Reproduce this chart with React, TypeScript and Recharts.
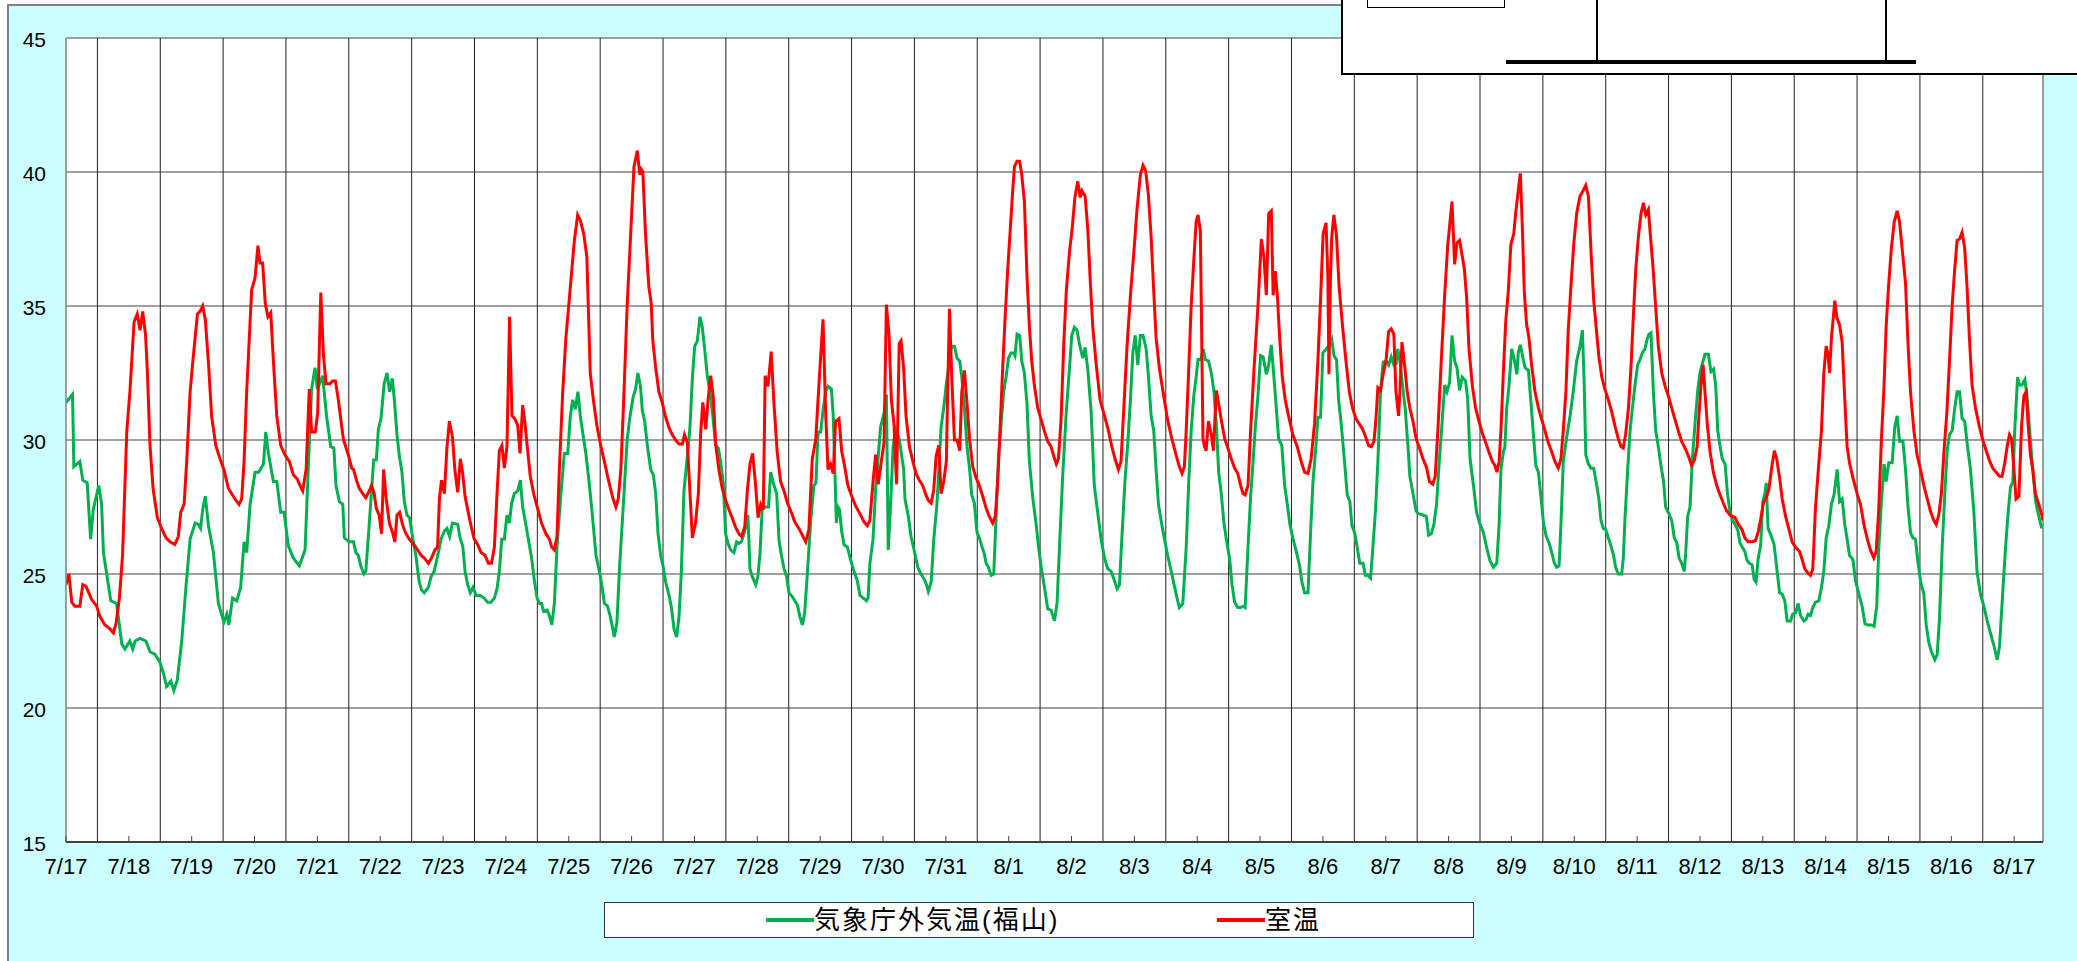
import { LineChart, Line, XAxis, YAxis, CartesianGrid, ReferenceLine } from 'recharts'

// hours counted from 7/17 0:00, temperature in °C
const dayLabels = [
  '7/17', '7/18', '7/19', '7/20', '7/21', '7/22', '7/23', '7/24', '7/25', '7/26', '7/27', '7/28', '7/29', '7/30', '7/31',
  '8/1', '8/2', '8/3', '8/4', '8/5', '8/6', '8/7', '8/8', '8/9', '8/10', '8/11', '8/12', '8/13', '8/14', '8/15', '8/16', '8/17',
]
const yTicks = [15, 20, 25, 30, 35, 40, 45]
const seriesNames = ['気象庁外気温(福山)', '室温']

const outdoorTemp: [number, number][] = [
  [0, 31.4], [2.5, 31.7], [3, 29.0], [5.3, 29.2], [6.4, 28.5], [8.1, 28.4], [9.4, 26.3], [10.4, 27.4], [12.5, 28.3], [13.6, 27.6],
  [14.3, 25.8], [17.1, 24.0], [19.3, 23.9], [21.3, 22.4], [22.5, 22.2], [24.4, 22.5], [25.5, 22.2], [26.4, 22.5], [28.3, 22.6], [30.5, 22.5],
  [32.1, 22.1], [34, 22.0], [35.9, 21.7], [37.2, 21.3], [38.4, 20.8], [40.1, 21.0], [41.2, 20.65], [42.5, 21.05], [44.2, 22.5], [45.8, 24.5],
  [47.4, 26.3], [49.3, 26.9], [50.5, 26.85], [51.4, 26.7], [52.2, 27.4], [53.2, 27.9], [54.4, 26.8], [56.3, 25.8], [58.2, 23.9], [60.3, 23.2],
  [61.4, 23.5], [62.2, 23.1], [63.6, 24.1], [65.2, 24.0], [66.7, 24.5], [68, 26.2], [69, 25.8], [70.3, 27.6], [72.2, 28.8], [73.6, 28.8],
  [75.4, 29.1], [76.3, 30.3], [77.3, 29.5], [79.2, 28.45], [80.5, 28.45], [82, 27.3], [83.3, 27.3], [84.9, 26.05], [86.8, 25.6], [89.1, 25.3],
  [91.3, 25.9], [92.5, 28.9], [93.8, 31.9], [95.1, 32.7], [96, 31.9], [98, 32.4], [99.5, 30.9], [101.1, 29.75], [102.3, 29.7], [103.1, 28.3],
  [104.4, 27.7], [105.7, 27.6], [106.3, 26.35], [108.2, 26.2], [109.8, 26.2], [110.7, 25.8], [111.6, 25.7], [112.6, 25.3], [113.7, 25.0], [114.5, 25.1],
  [115.8, 26.85], [117.5, 29.25], [118.5, 29.25], [119.3, 30.4], [120.3, 30.8], [121.5, 32.1], [122.6, 32.5], [123.6, 31.8], [124.6, 32.3], [125.4, 31.5],
  [126.4, 30.2], [127.3, 29.4], [128.3, 28.8], [129.2, 27.7], [130.2, 27.2], [131.2, 27.1], [132.4, 26.35], [133.6, 25.7], [134.9, 24.7], [135.8, 24.4],
  [136.8, 24.3], [138.4, 24.5], [139.4, 24.9], [140.6, 25.1], [142.2, 25.8], [143.2, 26.3], [144.5, 26.6], [145.5, 26.7], [146.5, 26.4], [147.6, 26.9],
  [149.6, 26.85], [150.6, 26.3], [151.5, 26.05], [152.4, 25.1], [153.4, 24.6], [154.4, 24.3], [155.4, 24.5], [156.6, 24.2], [158.2, 24.2], [159.7, 24.1],
  [161, 23.95], [162.3, 23.95], [163.6, 24.1], [164.6, 24.45], [165.5, 25.1], [166.4, 26.3], [167.4, 26.3], [168.4, 27.2], [169.3, 26.9], [170.2, 27.65],
  [171.2, 28.0], [172.5, 28.1], [173.5, 28.5], [174.4, 27.5], [175.7, 26.8], [177, 26.05], [177.8, 25.6], [178.8, 24.8], [179.9, 24.1], [180.9, 23.9],
  [181.6, 23.9], [182.4, 23.6], [183.7, 23.65], [184.6, 23.45], [185.5, 23.1], [186.5, 23.9], [187.5, 26.0], [189, 28.0], [190.3, 29.5], [191.6, 29.5],
  [192.6, 30.9], [193.5, 31.5], [194.5, 31.15], [195.5, 31.8], [196.4, 30.9], [197.3, 30.3], [198.6, 29.45], [199.8, 28.4], [201.1, 27.1], [202.4, 25.7],
  [203.7, 25.1], [204.6, 24.6], [205.6, 23.9], [206.8, 23.8], [207.9, 23.4], [209.4, 22.65], [210.4, 23.2], [211.4, 25.25], [213.1, 28.0], [214.3, 30.0],
  [215.4, 30.9], [216.6, 31.6], [217.5, 31.9], [218.4, 32.5], [219.4, 32.0], [220.1, 31.1], [221, 30.7], [222, 29.8], [223.3, 28.9], [224.3, 28.7],
  [225.2, 28.0], [226.1, 26.5], [227.1, 25.7], [228.1, 25.25], [229, 24.7], [230.3, 24.2], [231.2, 23.75], [232.2, 22.95], [233.2, 22.65], [234.1, 23.4],
  [235, 25.1], [236, 28.1], [237.3, 29.4], [238.3, 30.5], [239.2, 32.3], [240.1, 33.5], [241.1, 33.7], [242.1, 34.6], [243, 34.2], [243.9, 33.4],
  [244.9, 32.4], [245.9, 31.8], [246.9, 31.0], [248.1, 29.8], [249.1, 29.7], [250, 29.2], [251, 28.4], [251.9, 26.5], [252.8, 26.15], [253.8, 25.9],
  [255.1, 25.8], [256.1, 26.2], [257.1, 26.15], [257.9, 26.2], [258.9, 26.5], [259.9, 26.9], [260.4, 27.2], [261.2, 25.2], [262.1, 24.9], [263.4, 24.6],
  [264.2, 24.9], [265, 25.7], [265.9, 27.5], [267.2, 27.5], [268.3, 27.5], [269.1, 28.8], [270.4, 28.3], [271.4, 28.0], [272.3, 26.25], [273.2, 25.7],
  [274.2, 25.2], [275.2, 24.9], [276.1, 24.3], [277.4, 24.15], [278.3, 24.0], [279.3, 23.85], [280.3, 23.4], [281.2, 23.1], [282.1, 23.55], [283.1, 25.0],
  [284.4, 27.0], [285.6, 28.3], [286.4, 28.4], [287.2, 30.3], [288.2, 30.3], [289.1, 31.1], [290.1, 31.8], [291, 32.0], [292.3, 31.9], [293, 30.9],
  [293.5, 29.3], [294.2, 26.9], [294.8, 27.5], [295.4, 27.4], [296.2, 26.6], [297.1, 26.1], [298.4, 26.0], [299.6, 25.55], [300.9, 25.1], [302.2, 24.75],
  [303.2, 24.2], [304.5, 24.1], [305.7, 24.0], [306.3, 24.1], [307, 25.4], [308.2, 26.3], [309.2, 28.2], [310.1, 29.3], [311.1, 30.5], [312.4, 31.0],
  [313.3, 31.7], [314, 25.9], [314.9, 27.6], [315.9, 29.8], [316.8, 30.4], [318.1, 30.1], [319.9, 28.9], [320.4, 27.8], [321.7, 27.15], [322.7, 26.4],
  [324, 25.85], [325.3, 25.25], [326.5, 25.0], [327.8, 24.8], [328.6, 24.6], [329.3, 24.35], [330.4, 24.7], [331.4, 26.3], [332.6, 27.6], [333.5, 29.2],
  [334.2, 30.5], [335.2, 31.2], [336.2, 32.1], [337.4, 32.95], [338.2, 33.5], [339.3, 33.5], [340.3, 33.05], [341.3, 32.95], [342.1, 32.35], [343.1, 31.2],
  [344.1, 29.75], [345.1, 28.9], [345.9, 27.95], [346.9, 27.65], [347.9, 26.55], [348.8, 26.35], [349.7, 26.05], [350.7, 25.75], [351.4, 25.4], [352.3, 25.25],
  [353.3, 24.95], [354.3, 25.0], [355.2, 27.15], [356.1, 29.3], [357.1, 30.6], [358.1, 31.8], [359, 32.35], [359.9, 33.05], [360.9, 33.25], [361.9, 33.25],
  [362.4, 33.15], [363.2, 33.95], [364.2, 33.9], [365, 32.95], [366, 32.5], [367, 31.35], [367.9, 29.2], [369.2, 27.85], [370.5, 26.85], [371.3, 26.1],
  [372.4, 25.25], [373.6, 24.55], [374.9, 23.7], [376.2, 23.65], [377.5, 23.25], [378.5, 23.95], [379.4, 26.0], [380.6, 28.6], [381.9, 30.9], [383.2, 32.65],
  [384.1, 33.9], [385.1, 34.2], [386.1, 34.1], [387, 33.6], [388.3, 33.05], [389.2, 33.45], [390.2, 32.65], [391.5, 31.05], [392.7, 28.3], [394, 27.3],
  [395.3, 26.3], [396.6, 25.6], [397.8, 25.2], [399.1, 25.1], [400.4, 24.75], [401.4, 24.45], [402.3, 24.6], [403.2, 26.3], [404.4, 28.45], [405.5, 29.9],
  [406.5, 31.5], [407.4, 33.25], [408.3, 33.9], [409.3, 32.8], [410.3, 33.9], [411.3, 33.9], [412.5, 33.4], [413.4, 32.35], [414.4, 30.9], [415.4, 30.35],
  [416.3, 28.9], [417.2, 27.6], [418.2, 27.0], [419.5, 26.3], [420.7, 25.7], [422.3, 25.0], [423.3, 24.55], [424.3, 24.1], [425.2, 23.75], [426.5, 23.9],
  [427.8, 26.0], [428.7, 28.3], [429.7, 30.35], [430.7, 31.65], [431.6, 32.35], [432.3, 33.0], [433.3, 33.0], [434.3, 33.4], [435.1, 33.0], [436.3, 32.95],
  [437.4, 32.5], [438.4, 31.8], [439.3, 30.6], [440.2, 28.8], [441.2, 28.0], [442.2, 26.9], [443.2, 26.25], [444.4, 25.55], [445.3, 24.6], [446.3, 23.95],
  [447.5, 23.75], [448.6, 23.75], [449.5, 23.8], [450.3, 23.75], [451.4, 26.0], [452.4, 27.9], [453.3, 29.15], [454.2, 30.5], [455.2, 31.65], [456.2, 33.15],
  [457.2, 33.1], [458.4, 32.45], [459.3, 32.8], [460.3, 33.55], [461.3, 32.35], [462.2, 31.2], [463.1, 30.05], [464.3, 29.8], [465.4, 28.3], [466.4, 27.6],
  [467.4, 26.85], [468.5, 26.35], [469.8, 25.85], [471.1, 25.3], [472, 24.7], [473, 24.3], [474.3, 24.3], [475.3, 26.55], [476.2, 28.45], [477.2, 29.6],
  [478.1, 30.85], [479.1, 30.85], [480, 33.25], [481.3, 33.4], [482.5, 33.55], [483.4, 33.75], [484.2, 33.15], [485.2, 33.0], [486, 31.5], [487, 30.6],
  [488.3, 29.15], [489.3, 27.95], [490.3, 27.7], [491.1, 26.8], [492.1, 26.55], [493.1, 26.0], [494.1, 25.4], [495.3, 25.4], [496.2, 24.95], [497.2, 24.95],
  [498.2, 24.85], [499.1, 26.0], [500.1, 27.4], [501, 29.2], [502, 31.8], [503, 32.9], [504.1, 32.95], [505.1, 32.8], [506.1, 33.1], [507.1, 32.8],
  [508, 32.85], [508.6, 33.4], [509.4, 32.95], [510.4, 32.05], [511.4, 31.2], [512.5, 29.75], [513.2, 28.65], [514.4, 28.0], [515.6, 27.35], [516.5, 27.25],
  [518.2, 27.2], [519.5, 27.15], [520.4, 26.45], [521.4, 26.5], [522.4, 26.85], [523.4, 27.6], [524.4, 29.15], [525.4, 30.5], [526.5, 32.05], [527.4, 31.8],
  [528.4, 32.15], [529.3, 33.9], [530.3, 32.95], [531.2, 32.7], [532.2, 31.85], [533.2, 32.35], [534.5, 32.2], [535.3, 31.5], [536.2, 29.3], [537.5, 28.3],
  [538.7, 27.3], [540, 26.85], [541.3, 26.55], [542.5, 26.0], [543.8, 25.5], [545.1, 25.25], [546.4, 25.4], [547.3, 26.85], [548, 28.9], [548.9, 29.55],
  [549.5, 29.75], [550.2, 31.2], [551.1, 32.05], [552.1, 33.4], [553.1, 33.0], [554.1, 32.45], [554.6, 33.25], [555.4, 33.55], [556.2, 33.15], [557.2, 32.7],
  [558.5, 32.6], [559.5, 31.35], [560.4, 30.2], [561.3, 29.05], [562.3, 28.8], [563.3, 27.85], [564.3, 26.85], [565.3, 26.4], [566.4, 26.15], [567.4, 25.8],
  [568.4, 25.4], [569.3, 25.25], [570.2, 25.3], [570.9, 26.85], [571.8, 29.2], [573.1, 30.1], [574.4, 30.9], [575.6, 31.8], [576.9, 32.95], [578.2, 33.5],
  [579.1, 34.1], [579.8, 32.05], [580.4, 29.45], [581.4, 29.1], [582.4, 28.95], [583.4, 28.95], [584.6, 28.3], [585.4, 27.8], [586.2, 27.0], [587.1, 26.7],
  [588, 26.65], [589, 26.35], [590, 26.05], [591, 25.7], [591.8, 25.25], [592.8, 25.0], [594.1, 25.0], [594.7, 25.55], [595.4, 27.15], [596.4, 28.9],
  [597.3, 30.35], [598.2, 31.2], [599.2, 32.05], [600.2, 32.8], [601.1, 33.0], [602, 33.25], [603, 33.4], [603.8, 33.75], [604.5, 33.95], [605.3, 34.0],
  [606.2, 31.8], [607.1, 30.35], [608.1, 29.75], [609.1, 29.05], [610.1, 28.45], [610.9, 27.5], [611.9, 27.3], [613.2, 27.0], [614.2, 26.35], [615.2, 26.15],
  [616, 25.6], [617, 25.4], [618, 25.1], [618.5, 25.7], [619.3, 27.15], [620.2, 27.5], [621.1, 29.3], [622.1, 30.6], [623.1, 31.8], [624, 32.5],
  [624.9, 32.85], [625.9, 33.2], [627.2, 33.2], [628.2, 32.55], [629.2, 32.65], [630, 32.05], [630.8, 30.35], [631.7, 29.75], [632.5, 29.3], [633.6, 29.1],
  [634.5, 28.0], [635.5, 27.3], [636.4, 27.0], [637.4, 26.85], [638.4, 26.65], [639.3, 26.15], [641.1, 25.85], [642, 25.5], [642.9, 25.4], [643.9, 25.35],
  [644.7, 24.8], [645.4, 24.7], [646.2, 25.55], [647.2, 26.1], [648, 27.7], [648.8, 28.0], [649.3, 28.4], [650, 26.7], [651.3, 26.4], [652.3, 26.1],
  [653.3, 25.25], [654.4, 24.3], [655.4, 24.25], [656.4, 24.0], [657.3, 23.25], [658.6, 23.25], [659.4, 23.5], [660.5, 23.55], [661.5, 23.9], [662.4, 23.45],
  [663.7, 23.25], [664.5, 23.3], [665.3, 23.5], [666.2, 23.45], [667.1, 23.75], [668.1, 23.95], [669.4, 24.0], [670.4, 24.5], [671.3, 25.1], [672.2, 26.35],
  [673.2, 26.8], [674.2, 27.6], [675.2, 27.95], [676.4, 28.9], [677.3, 27.7], [678.3, 27.8], [679.3, 26.85], [680.2, 26.3], [681.1, 25.7], [682.4, 25.55],
  [683.4, 24.75], [684.7, 24.25], [685.9, 23.8], [687, 23.15], [688.2, 23.1], [689.5, 23.1], [690.5, 23.05], [691.5, 23.8], [692.3, 26.0], [693.3, 27.7],
  [694.3, 29.1], [695.1, 28.45], [696.1, 29.15], [697.4, 29.15], [698.4, 30.5], [699.3, 30.9], [700.2, 29.95], [701.5, 29.95], [702.5, 28.9], [703.5, 27.45],
  [704.4, 26.55], [705.3, 26.35], [706.3, 26.3], [707.3, 25.4], [708.3, 24.7], [709.5, 24.25], [710.4, 23.1], [711.4, 22.45], [712.4, 22.1], [713.7, 21.8],
  [714.6, 22.0], [715.5, 23.4], [716.5, 26.0], [717.5, 28.0], [718.4, 29.6], [719.3, 30.2], [720.3, 30.35], [721.3, 31.2], [722.2, 31.8], [723.1, 31.8],
  [724.1, 30.8], [725.1, 30.7], [726, 29.9], [727.3, 28.9], [728.6, 27.3], [729.8, 25.1], [731.1, 24.25], [732.4, 23.8], [733.7, 23.25], [734.9, 22.8],
  [736.2, 22.35], [737.5, 21.8], [738.4, 22.3], [739.4, 23.95], [740.7, 26.0], [741.7, 27.3], [742.6, 28.25], [743.5, 28.45], [744.2, 30.35], [745.3, 32.35],
  [746, 32.05], [747, 32.05], [748.1, 32.25], [749, 31.5], [749.9, 30.35], [750.9, 29.15], [752.2, 27.7], [753.4, 27.15], [754.4, 26.75], [755, 26.75],
]

const roomTemp: [number, number][] = [
  [0, 24.6], [1.1, 25.0], [2.2, 23.95], [3.4, 23.8], [5.3, 23.8], [6.4, 24.6], [7.6, 24.55], [9.8, 24.05], [11.7, 23.8], [13, 23.4],
  [14.9, 23.1], [16.8, 22.95], [18.1, 22.8], [19.1, 23.15], [20.4, 24.1], [21.6, 25.7], [23.2, 30.3], [24.4, 31.8], [26, 34.4], [27.2, 34.7],
  [28.3, 34.1], [29.3, 34.8], [30.4, 33.9], [31.1, 32.5], [32.1, 29.75], [33.3, 28.15], [34.9, 27.1], [36.5, 26.7], [38.2, 26.35], [39.7, 26.2],
  [41.6, 26.1], [42.9, 26.4], [43.8, 27.3], [45.1, 27.6], [46.1, 29.2], [47.4, 31.8], [48.4, 32.9], [50.2, 34.7], [51.2, 34.8], [52.2, 35.0],
  [53.2, 34.5], [54.4, 32.9], [55.6, 30.9], [57.2, 29.8], [58.8, 29.3], [60.3, 28.9], [62, 28.2], [63.6, 27.95], [64.9, 27.75], [66.1, 27.6],
  [67.1, 27.8], [68, 29.2], [69, 31.8], [70.9, 35.6], [72.2, 36.05], [73.3, 37.25], [74.1, 36.6], [75.1, 36.6], [76.1, 35.1], [77.1, 34.6],
  [78.2, 34.75], [79.2, 32.95], [80.5, 30.9], [82, 29.8], [83.6, 29.45], [85.3, 29.2], [86.8, 28.7], [88.3, 28.55], [89.4, 28.3], [90.4, 28.1],
  [91.7, 28.9], [92.9, 31.9], [93.8, 30.3], [95.2, 30.3], [96.1, 31.0], [97.3, 35.5], [98.3, 33.2], [99.3, 32.1], [100.8, 32.1], [101.8, 32.2],
  [102.9, 32.2], [104, 31.5], [105.3, 30.5], [106, 30.0], [107.8, 29.45], [109.1, 28.95], [109.8, 28.9], [111.1, 28.45], [112, 28.2], [113.3, 28.0],
  [114.5, 27.85], [115.8, 28.1], [116.7, 28.3], [117.7, 28.0], [118.5, 27.45], [119.6, 27.2], [120.5, 26.5], [121.3, 28.9], [122.3, 27.8], [123.5, 26.9],
  [124.7, 26.55], [125.6, 26.2], [126.4, 27.2], [127.4, 27.3], [128.5, 26.85], [129.6, 26.55], [131.1, 26.3], [132.8, 26.1], [134.3, 25.9], [135.6, 25.7],
  [136.8, 25.6], [138.4, 25.4], [139.6, 25.6], [140.9, 25.9], [141.9, 26.0], [142.6, 27.8], [143.4, 28.5], [144.5, 28.0], [145.5, 29.75], [146.4, 30.7],
  [147.6, 30.1], [148.5, 28.9], [149.6, 28.05], [150.6, 29.3], [151.5, 28.75], [152.4, 27.9], [153.6, 27.3], [154.9, 26.7], [155.9, 26.3], [157.2, 26.1],
  [158.5, 25.8], [160, 25.7], [161.3, 25.4], [162.5, 25.4], [163.6, 26.0], [164.6, 28.0], [165.5, 29.6], [166.5, 29.8], [167.4, 28.95], [168.4, 29.75],
  [169.4, 34.6], [170.3, 30.9], [171.4, 30.8], [172.5, 30.55], [173.4, 29.5], [174.4, 31.3], [175.3, 30.6], [176.3, 29.6], [177.3, 28.65], [178.6, 28.0],
  [180.1, 27.45], [181.6, 26.9], [183.3, 26.5], [184.6, 26.3], [185.5, 26.0], [186.5, 25.9], [187.5, 26.4], [188.4, 28.9], [189.7, 31.8], [190.9, 33.8],
  [192.6, 35.7], [194.1, 37.4], [195.4, 38.4], [196.4, 38.2], [197.7, 37.7], [198.9, 36.85], [200.2, 32.5], [201.4, 31.5], [202.8, 30.5], [204.3, 29.75],
  [205.6, 29.2], [206.8, 28.65], [207.9, 28.2], [208.8, 27.85], [210, 27.5], [210.9, 27.8], [211.9, 28.9], [213.1, 31.8], [214.3, 35.0], [215.6, 37.6],
  [216.9, 40.2], [218.2, 40.8], [219.1, 39.9], [219.7, 40.1], [220.3, 40.0], [221.3, 37.7], [222.6, 35.7], [223.5, 35.1], [224.1, 33.7], [225.2, 32.7],
  [226.4, 31.8], [227.7, 31.4], [228.7, 30.95], [230.3, 30.45], [231.5, 30.2], [232.8, 30.0], [234.1, 29.85], [235.4, 29.85], [236.2, 30.2], [237.3, 29.9],
  [238.2, 28.2], [239.2, 26.35], [240.4, 26.9], [241.5, 28.0], [242.4, 30.3], [243.2, 31.4], [244.3, 30.4], [245.2, 31.5], [246.2, 32.4], [247.2, 31.6],
  [248.1, 29.85], [249.4, 28.85], [250.6, 28.2], [251.9, 27.75], [253.2, 27.4], [254.4, 27.1], [255.7, 26.75], [257, 26.5], [258, 26.4], [259.2, 26.75],
  [260.2, 28.1], [261.2, 29.1], [262.2, 29.5], [263.2, 28.5], [264.3, 27.1], [265.3, 27.6], [266.3, 27.4], [267, 32.4], [268.1, 32.0], [269.3, 33.3],
  [270.4, 31.3], [271.6, 29.55], [272.9, 28.45], [274.2, 28.1], [275.5, 27.65], [277, 27.3], [278.3, 26.95], [279.9, 26.7], [281.2, 26.45], [282.5, 26.2],
  [283.7, 26.65], [285, 29.3], [286.3, 30.0], [287.8, 32.5], [289.1, 34.5], [290.1, 31.05], [291, 28.9], [292, 29.1], [293, 28.75], [293.9, 30.7],
  [295.2, 30.8], [296.2, 29.6], [297.3, 29.05], [298.6, 28.3], [299.9, 27.95], [301.5, 27.55], [303.2, 27.25], [304.7, 26.95], [306, 26.8], [307, 27.0],
  [308.2, 28.45], [309.2, 29.45], [310.2, 28.35], [311.3, 29.15], [312.4, 29.9], [313.3, 35.05], [314.3, 33.95], [315.2, 31.5], [316.2, 30.6], [317.2, 28.35],
  [318.2, 33.6], [318.9, 33.7], [319.9, 32.65], [320.8, 30.9], [322.1, 29.75], [323.4, 29.2], [324.6, 28.75], [325.9, 28.5], [327.2, 28.3], [328.4, 27.95],
  [329.3, 27.75], [330.4, 27.65], [331.4, 28.15], [332.3, 29.4], [333.3, 29.8], [334.2, 28.0], [335.2, 28.45], [336.2, 29.2], [336.7, 31.8], [337.4, 34.9],
  [338.2, 32.5], [339.3, 30.0], [340.3, 30.0], [341.3, 29.6], [342.1, 31.8], [343.1, 32.6], [344.1, 31.35], [345.1, 30.0], [346.3, 29.0], [347.5, 28.6],
  [348.8, 28.3], [350.1, 27.9], [351.4, 27.45], [352.6, 27.15], [353.9, 26.9], [354.9, 27.15], [355.8, 28.45], [356.8, 30.6], [357.7, 32.65], [358.7, 34.7],
  [359.6, 36.3], [360.7, 38.0], [361.5, 39.25], [362.2, 40.2], [363.2, 40.4], [364.2, 40.4], [365, 39.9], [366, 38.9], [367, 36.1], [367.9, 34.25],
  [368.8, 32.95], [369.8, 32.05], [371.1, 31.2], [372.4, 30.75], [373.6, 30.35], [374.9, 29.95], [376.2, 29.75], [377.2, 29.4], [378.2, 29.1], [379, 29.3],
  [380, 30.75], [381, 33.5], [382, 35.55], [383.2, 37.0], [384.2, 37.85], [385.3, 39.05], [386.4, 39.65], [387.3, 39.05], [388, 39.3], [389.2, 39.1],
  [390.2, 37.9], [391.2, 35.85], [392.1, 34.25], [393.4, 32.85], [394.9, 31.5], [396.6, 30.9], [398.1, 30.35], [399.4, 29.75], [400.6, 29.3], [401.9, 28.9],
  [402.9, 29.2], [403.9, 31.05], [405.2, 33.5], [406.5, 35.4], [407.8, 37.0], [409, 38.6], [410.3, 39.9], [411.3, 40.25], [412.3, 40.05], [413.3, 39.2],
  [414.4, 37.6], [415.4, 35.55], [416.3, 33.8], [417.6, 32.65], [419.2, 31.65], [420.7, 30.75], [422.3, 30.05], [423.9, 29.45], [425.2, 29.0], [426.2, 28.75],
  [427.1, 29.0], [427.8, 30.35], [428.7, 32.5], [429.7, 35.0], [430.7, 36.7], [431.6, 38.15], [432.3, 38.4], [433.2, 37.8], [433.8, 33.25], [434.2, 30.05],
  [434.8, 29.75], [435.4, 29.6], [436.3, 30.7], [437.4, 30.2], [438.2, 29.6], [439.3, 31.85], [440.2, 31.35], [441.2, 30.75], [442.5, 30.05], [443.7, 29.7],
  [445, 29.3], [446.3, 28.95], [447.5, 28.75], [448.6, 28.3], [449.5, 28.0], [450.3, 27.95], [451.4, 28.3], [452.4, 30.35], [453.7, 32.65], [455.2, 35.0],
  [456.5, 37.5], [457.5, 36.8], [458.4, 35.4], [459.3, 38.45], [460.3, 38.55], [461, 35.4], [461.8, 36.3], [462.6, 35.4], [463.5, 33.8], [464.5, 32.35],
  [465.6, 31.5], [466.9, 30.9], [468.5, 30.2], [470.2, 29.75], [471.7, 29.2], [473, 28.8], [474.3, 28.75], [475.5, 29.3], [476.8, 30.6], [478.1, 32.95],
  [479.1, 35.25], [480.1, 37.7], [481.2, 38.1], [481.9, 36.1], [482.3, 32.45], [482.9, 36.1], [483.4, 37.6], [484.2, 38.4], [485.2, 37.6], [486.2, 35.7],
  [487.5, 34.25], [488.8, 32.95], [490.1, 31.8], [491.3, 31.2], [492.6, 30.8], [493.9, 30.6], [495.2, 30.4], [496.4, 30.1], [497.4, 29.8], [498.5, 29.75],
  [499.5, 29.95], [500.2, 30.7], [501, 31.95], [502, 31.85], [503, 32.45], [504.1, 32.95], [505.1, 34.05], [506.1, 34.15], [507.1, 33.95], [507.9, 31.8],
  [508.9, 30.9], [509.4, 31.8], [510.2, 33.65], [511.2, 32.8], [512.2, 31.8], [513.2, 31.2], [514.4, 30.7], [515.6, 30.05], [516.9, 29.7], [518.2, 29.3],
  [519.5, 29.0], [520.7, 28.45], [522, 28.35], [522.9, 28.65], [523.9, 30.35], [525.2, 32.95], [526.5, 35.4], [527.7, 37.3], [529.3, 38.9], [530.3, 36.55],
  [531.2, 37.35], [532.2, 37.45], [534, 36.4], [534.9, 35.3], [535.8, 33.4], [537.1, 32.0], [538.3, 31.2], [539.6, 30.7], [540.9, 30.25], [542.2, 29.9],
  [543.4, 29.55], [544.7, 29.2], [545.7, 29.05], [546.5, 28.8], [547.3, 29.2], [548, 30.35], [548.9, 32.5], [549.8, 34.4], [550.8, 35.55], [551.8, 37.3],
  [552.9, 37.7], [553.6, 38.45], [554.6, 39.3], [555.4, 39.95], [556.2, 37.85], [556.9, 35.55], [557.8, 34.3], [558.7, 33.8], [559.7, 32.8], [561, 31.8],
  [562.3, 31.2], [563.6, 30.75], [564.8, 30.35], [566.1, 29.9], [567.4, 29.55], [568.6, 29.2], [569.9, 28.95], [570.9, 29.3], [571.8, 30.35], [572.8, 31.8],
  [573.7, 34.1], [574.8, 35.85], [575.8, 37.3], [576.9, 38.45], [578.2, 39.1], [579.1, 39.25], [580.4, 39.5], [581.4, 39.1], [582.4, 37.0], [583.4, 35.25],
  [584.6, 33.95], [585.4, 33.1], [586.5, 32.35], [587.7, 31.9], [589, 31.5], [590.3, 31.05], [591.6, 30.5], [592.8, 30.05], [593.9, 29.75], [594.7, 29.7],
  [595.6, 30.2], [596.7, 31.2], [597.7, 32.8], [598.6, 34.7], [599.5, 36.4], [600.5, 37.6], [601.5, 38.45], [602.4, 38.85], [603.3, 38.4], [604.3, 38.6],
  [605.1, 37.6], [606.1, 36.4], [607.1, 34.95], [608.1, 33.5], [609.4, 32.5], [610.7, 32.0], [611.9, 31.65], [613.2, 31.2], [614.5, 30.75], [615.7, 30.35],
  [617, 29.95], [618.3, 29.7], [619.6, 29.4], [620.8, 29.05], [621.9, 29.25], [622.9, 29.75], [623.6, 30.9], [624.4, 32.05], [625.2, 32.8], [625.9, 31.8],
  [626.8, 30.6], [627.8, 29.6], [629.1, 28.8], [630.4, 28.3], [631.7, 27.95], [632.9, 27.65], [634.2, 27.35], [635.5, 27.2], [637.4, 27.1], [638.7, 26.85],
  [640.1, 26.65], [641.1, 26.35], [642.4, 26.2], [643.9, 26.2], [645.2, 26.25], [646.2, 26.55], [647.2, 27.05], [648.2, 27.65], [649.3, 27.85], [650.3, 28.15],
  [651.3, 28.9], [652.4, 29.6], [653.3, 29.3], [654.4, 28.6], [655.4, 27.8], [656.7, 27.15], [657.9, 26.7], [659.2, 26.2], [660.5, 26.0], [662, 25.85],
  [663, 25.55], [664, 25.2], [665.1, 25.05], [666.2, 24.95], [667.1, 25.2], [668.1, 27.45], [669.4, 29.15], [670.4, 30.35], [671.3, 32.5], [672.2, 33.5],
  [672.9, 33.2], [673.5, 32.5], [674.2, 33.8], [674.9, 34.55], [675.5, 35.2], [676.3, 34.55], [677.3, 34.3], [678.3, 33.65], [678.9, 32.35], [679.6, 30.9],
  [680.2, 29.75], [681.1, 29.15], [682.4, 28.6], [684, 28.0], [685.3, 27.6], [686.6, 26.85], [687.8, 26.35], [689.1, 25.9], [690.4, 25.6], [691.3, 25.85],
  [692.3, 27.45], [693.3, 30.05], [694.2, 31.8], [695.1, 34.25], [696.1, 35.85], [697.1, 37.15], [698.2, 38.15], [699.3, 38.55], [700.2, 38.15], [701.2, 37.15],
  [702.5, 35.85], [703.5, 33.5], [704.4, 31.8], [705.7, 30.35], [706.9, 29.45], [708.2, 28.9], [709.5, 28.3], [710.8, 27.8], [712, 27.35], [713.3, 27.0],
  [714.2, 26.85], [715.2, 27.2], [716.2, 28.0], [717.2, 29.6], [718.3, 31.05], [719.3, 32.95], [720.3, 35.0], [721.3, 36.4], [722.2, 37.45], [723.1, 37.5],
  [724.1, 37.75], [725.1, 37.15], [726, 35.7], [726.9, 33.8], [727.9, 32.05], [729.2, 31.2], [730.7, 30.5], [732, 30.0], [733.3, 29.6], [734.5, 29.25],
  [735.8, 28.95], [737.1, 28.8], [738.4, 28.65], [739.4, 28.65], [740.4, 29.15], [741.3, 29.75], [742.2, 30.2], [743, 30.05], [743.9, 28.9], [744.7, 27.8],
  [745.8, 27.9], [746.8, 30.5], [747.7, 31.65], [748.6, 31.8], [749.3, 30.6], [750.2, 29.45], [751.1, 28.9], [752.1, 28.0], [753.4, 27.6], [754.7, 27.15],
  [755, 27.0],
]

const COLORS = {
  outdoor: '#00b050',
  room: '#ff0000',
  bg: '#ccffff',
}

const FONT = "'Liberation Sans', 'Noto Sans CJK JP', sans-serif"

const dayTicks = dayLabels.map((_, i) => i * 24)
const gridHours = dayLabels.slice(0, -1).map((_, i) => i * 24 + 12)

function DayTick({ x, y, payload }: any) {
  const label = dayLabels[Math.round(payload.value / 24)]
  return (
    <g>
      <line x1={x} x2={x} y1={y - 6} y2={y} stroke="#404040" strokeWidth={1} />
      <text x={x} y={y + 24} textAnchor="middle" dominantBaseline="central" fontSize={22} fontFamily={FONT} fill="#000">
        {label}
      </text>
    </g>
  )
}

function TempTick({ x, y, payload }: any) {
  return (
    <text x={x - 20} y={y + 1} textAnchor="end" dominantBaseline="central" fontSize={21} fontFamily={FONT} fill="#000">
      {payload.value}
    </text>
  )
}

function ChartLegend() {
  const colors = [COLORS.outdoor, COLORS.room]
  const swatchLeft = [161, 612]
  return (
    <div style={{ position: 'absolute', left: 604, top: 902, width: 870, height: 36, boxSizing: 'border-box', border: '1.5px solid #333', background: '#fff', fontFamily: FONT }}>
      {seriesNames.map((name, i) => (
        <div key={name}>
          <div style={{ position: 'absolute', left: swatchLeft[i], top: 15, width: 48, height: 4, background: colors[i] }} />
          <div style={{ position: 'absolute', left: swatchLeft[i] + 48, top: -1, lineHeight: '36px', fontSize: 26, letterSpacing: 2, color: '#000', whiteSpace: 'nowrap' }}>
            {name}
          </div>
        </div>
      ))}
    </div>
  )
}

export default function App() {
  const outdoor = outdoorTemp.map(([h, t]) => ({ h, t }))
  const room = roomTemp.map(([h, t]) => ({ h, t }))

  return (
    <div style={{ position: 'absolute', left: 0, top: 0, width: 2077, height: 961, overflow: 'hidden', background: '#fff' }}>
      {/* chart frame */}
      <div style={{ position: 'absolute', left: 7, top: 4, width: 2100, height: 1000, background: COLORS.bg, border: '2px solid #808080' }} />

      <div style={{ position: 'absolute', left: 0, top: 0 }}>
        <LineChart width={2077} height={961} margin={{ top: 38, right: 34, bottom: 0, left: 0 }}>
          <CartesianGrid vertical={false} fill="#fff" stroke="#808080" strokeWidth={1.5} />
          {gridHours.map((g) => (
            <ReferenceLine key={g} x={g} stroke="#222" strokeWidth={1} />
          ))}
          <XAxis
            dataKey="h"
            type="number"
            domain={[0, 755]}
            allowDataOverflow
            ticks={dayTicks}
            interval={0}
            height={119}
            tickSize={0}
            tickMargin={0}
            tickLine={false}
            tick={<DayTick />}
            axisLine={{ stroke: '#404040', strokeWidth: 2 }}
          />
          <YAxis
            type="number"
            domain={[15, 45]}
            ticks={yTicks}
            interval={0}
            width={66}
            tickSize={0}
            tickMargin={0}
            tickLine={false}
            tick={<TempTick />}
            axisLine={{ stroke: '#808080', strokeWidth: 1.5 }}
          />
          <ReferenceLine x={755} stroke="#808080" strokeWidth={1.5} />
          <Line data={outdoor} dataKey="t" name={seriesNames[0]} type="linear" stroke={COLORS.outdoor} strokeWidth={3} dot={false} activeDot={false} isAnimationActive={false} />
          <Line data={room} dataKey="t" name={seriesNames[1]} type="linear" stroke={COLORS.room} strokeWidth={3} dot={false} activeDot={false} isAnimationActive={false} />
        </LineChart>
      </div>

      <ChartLegend />

      {/* inset drawing overlapping the top right corner */}
      <div style={{ position: 'absolute', left: 1341, top: -2, width: 800, height: 77, boxSizing: 'border-box', background: '#fff', border: '2px solid #000' }} />
      <div style={{ position: 'absolute', left: 1367, top: -2, width: 138, height: 10, boxSizing: 'border-box', background: '#fff', border: '1.5px solid #000' }} />
      <div style={{ position: 'absolute', left: 1596, top: 0, width: 1.5, height: 61, background: '#000' }} />
      <div style={{ position: 'absolute', left: 1885, top: 0, width: 1.5, height: 61, background: '#000' }} />
      <div style={{ position: 'absolute', left: 1506, top: 60, width: 410, height: 3.5, background: '#000' }} />
    </div>
  )
}
